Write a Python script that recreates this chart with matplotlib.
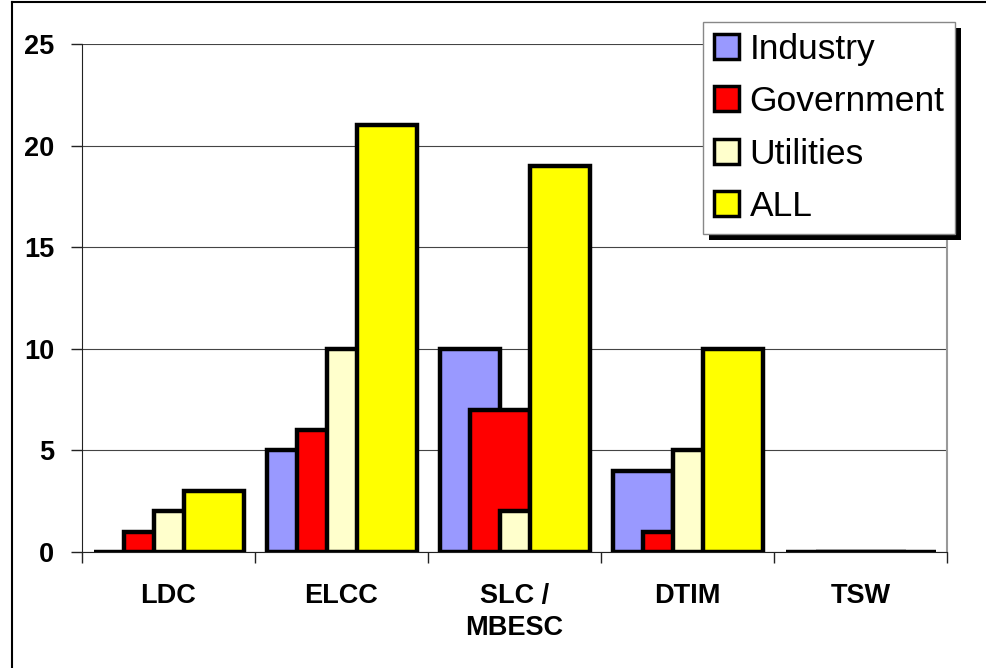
import numpy as np
import matplotlib
matplotlib.use('Agg')
import matplotlib.pyplot as plt
from matplotlib.patches import Rectangle
from matplotlib.lines import Line2D

plt.rcParams['font.family'] = ['Liberation Sans', 'DejaVu Sans']

# data
categories = ['LDC', 'ELCC', 'SLC /\nMBESC', 'DTIM', 'TSW']
series = ['Industry', 'Government', 'Utilities', 'ALL']
industry = [0, 5, 10, 4, 0]
government = [1, 6, 7, 1, 0]
utilities = [2, 10, 2, 5, 0]
all_sectors = [3, 21, 19, 10, 0]
colors = ['#9999FF', '#FF0000', '#FFFFCC', '#FFFF00']

values = [industry, government, utilities, all_sectors]

fig = plt.figure(figsize=(9.87, 6.68), dpi=100)
ax = fig.add_axes([82 / 987, 1 - 552 / 668, 865 / 987, 508 / 668])

x = np.arange(len(categories))
width = 0.347        # each bar
step = width / 2     # 50% overlap between neighbours
start = -0.4335

for k, (name, vals, col) in enumerate(zip(series, values, colors)):
    ax.bar(x + start + k * step, vals, width=width, align='edge',
           color=col, edgecolor='black', linewidth=3.2, label=name,
           zorder=3 + k)

ax.set_xlim(-0.5, len(categories) - 0.5)
ax.set_ylim(0, 25)
ax.set_yticks(range(0, 26, 5))
ax.yaxis.grid(True, color='#444444', linewidth=0.8, zorder=0)
ax.set_axisbelow(True)

# category boundaries get tick marks, centres get labels
ax.set_xticks(np.arange(-0.5, len(categories), 1.0))
ax.set_xticklabels([])
ax.set_xticks(x, minor=True)
ax.set_xticklabels(categories, minor=True, fontsize=19.5, fontweight='bold',
                   linespacing=1.3, va='top')
ax.tick_params(axis='x', which='major', direction='out', length=8,
               width=1, color='#222222')
ax.tick_params(axis='x', which='minor', length=0, pad=22)
ax.tick_params(axis='y', direction='out', length=8, width=1,
               color='#222222', pad=12)
for lab in ax.get_yticklabels():
    lab.set_fontsize(19.5)
    lab.set_fontweight('bold')

ax.spines['top'].set_visible(False)
ax.spines['right'].set_color('#999999')
ax.spines['right'].set_linewidth(1.5)
ax.spines['left'].set_color('#222222')
ax.spines['bottom'].set_color('#222222')

leg = ax.legend(loc='upper left', bbox_to_anchor=(703 / 987, 1 - 22 / 668),
                bbox_transform=fig.transFigure, fontsize=25.5, frameon=True,
                fancybox=False, edgecolor='#888888', framealpha=1,
                handlelength=0.72, handleheight=0.72, handletextpad=0.3,
                borderpad=0.3, labelspacing=0.55, borderaxespad=0)
leg.set_zorder(20)
for h in leg.legend_handles:
    h.set_linewidth(2.5)

# drop shadow behind the legend box
fig.canvas.draw()
bb = leg.get_window_extent()
off = 6
shadow = Rectangle((bb.x0 + off, bb.y0 - off), bb.width, bb.height,
                   transform=None, facecolor='black', edgecolor='none',
                   zorder=19, clip_on=False)
ax.add_artist(shadow)

# chart border (top and left edges)
fig.add_artist(Line2D([12 / 987, 12 / 987], [0, 1 - 2 / 668],
                      color='black', linewidth=1.5))
fig.add_artist(Line2D([12 / 987, 1], [1 - 2 / 668, 1 - 2 / 668],
                      color='black', linewidth=1.5))

fig.savefig('out.png', dpi=100)
